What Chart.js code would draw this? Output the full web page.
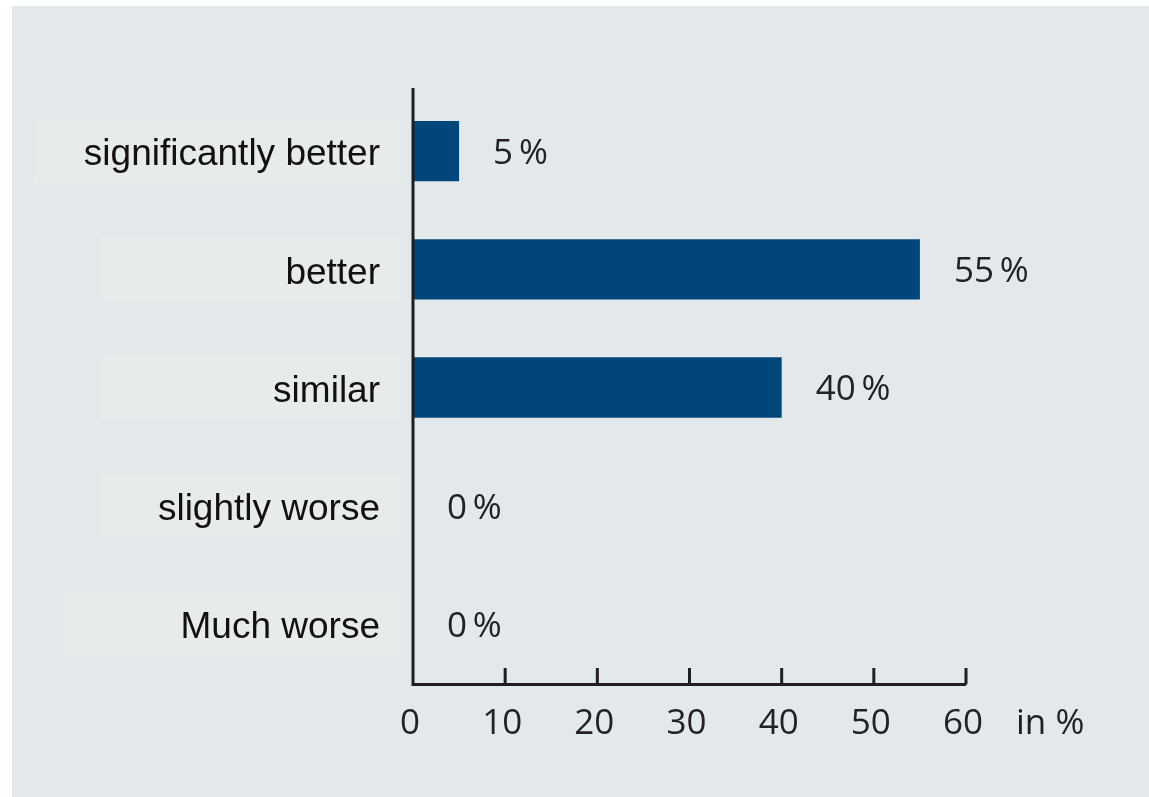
<!DOCTYPE html>
<html>
<head>
<meta charset="utf-8">
<script src="https://cdn.jsdelivr.net/npm/chart.js@4.4.1/dist/chart.umd.min.js"></script>
<style>
    html, body { margin: 0; padding: 0; background: #ffffff; }
    #wrap { width: 1149px; height: 797px; }
</style>
</head>
<body>
<div id="wrap"><canvas id="chart"></canvas></div>
<script>
// Dados do gráfico
const categories = ['significantly better', 'better', 'similar', 'slightly worse', 'Much worse'];
const values = [5, 55, 40, 0, 0];
const xTicks = [0, 10, 20, 30, 40, 50, 60];
const unitLabel = 'in %';

const barColor = '#00467a';
const axisColor = '#1f1f23';
const textColor = '#222226';
const numberFont = '"Open Sans", "Noto Sans", sans-serif';

// Fundo cinza e caixas claras atrás das categorias
const backgroundPlugin = {
    id: 'fundo',
    beforeDraw(chart) {
        const ctx = chart.ctx;
        const y = chart.scales.y;
        const boxLeft = [34, 100, 100, 100, 64];
        ctx.save();
        ctx.fillStyle = '#e3e8eb';
        ctx.fillRect(12, 6, 1137, 791);
        ctx.fillStyle = '#e7ebec';
        categories.forEach((c, i) => {
            const cy = y.getPixelForValue(i);
            ctx.fillRect(boxLeft[i], cy - 32, 400 - boxLeft[i], 64);
        });
        ctx.restore();
    }
};

// Eixos, marcas e rótulos de valor
const overlayPlugin = {
    id: 'sobreposicao',
    afterDatasetsDraw(chart) {
        const ctx = chart.ctx;
        const area = chart.chartArea;
        const x = chart.scales.x;
        ctx.save();
        ctx.strokeStyle = axisColor;
        ctx.lineWidth = 3;
        ctx.beginPath();
        ctx.moveTo(area.left, area.top - 4);
        ctx.lineTo(area.left, area.bottom + 1.5);
        ctx.lineTo(x.getPixelForValue(60), area.bottom + 1.5);
        ctx.stroke();
        xTicks.slice(1).forEach(t => {
            const px = x.getPixelForValue(t);
            ctx.beginPath();
            ctx.moveTo(px, area.bottom + 1.5);
            ctx.lineTo(px, area.bottom - 15);
            ctx.stroke();
        });

        ctx.fillStyle = textColor;
        ctx.font = '35px ' + numberFont;
        ctx.textAlign = 'left';
        ctx.textBaseline = 'middle';
        const meta = chart.getDatasetMeta(0);
        meta.data.forEach((bar, i) => {
            ctx.fillText(values[i] + '\u2009%', bar.x + 34, bar.y + 3);
        });
        ctx.fillText(unitLabel, 1016, 724);
        ctx.restore();
    }
};

const ctx = document.getElementById('chart').getContext('2d');
new Chart(ctx, {
    type: 'bar',
    data: {
        labels: categories,
        datasets: [{
            data: values,
            backgroundColor: barColor,
            borderWidth: 0,
            barPercentage: 0.51,
            categoryPercentage: 1
        }]
    },
    options: {
        indexAxis: 'y',
        responsive: true,
        maintainAspectRatio: false,
        animation: false,
        layout: {
            padding: { top: 92, right: 183, bottom: 0, left: 0 }
        },
        plugins: {
            legend: { display: false },
            tooltip: { enabled: false }
        },
        scales: {
            x: {
                min: 0,
                max: 60,
                afterFit(scale) { scale.height = 114; },
                afterBuildTicks(scale) { scale.ticks = xTicks.map(v => ({ value: v })); },
                grid: { display: false, drawTicks: false },
                border: { display: false },
                ticks: {
                    padding: 20,
                    labelOffset: -3,
                    color: textColor,
                    font: { family: numberFont, size: 35 }
                }
            },
            y: {
                afterFit(scale) { scale.width = 413; },
                grid: { display: false, drawTicks: false },
                border: { display: false },
                ticks: {
                    padding: 33,
                    labelOffset: 4,
                    color: '#111111',
                    font: { family: '"Liberation Sans", Arial, sans-serif', size: 37 }
                }
            }
        }
    },
    plugins: [backgroundPlugin, overlayPlugin]
});
</script>
</body>
</html>
